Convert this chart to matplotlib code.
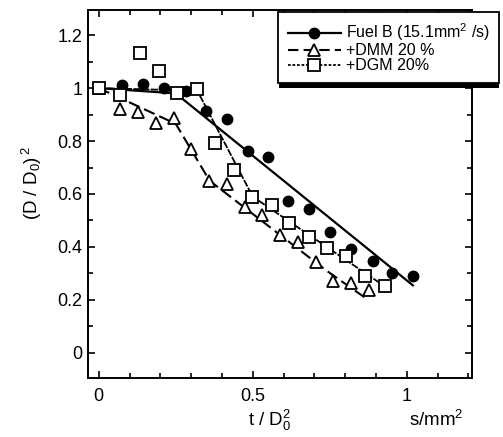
import matplotlib
matplotlib.use("Agg")
import matplotlib.pyplot as plt
from matplotlib.lines import Line2D
from matplotlib.ticker import MultipleLocator
import matplotlib.patheffects as pe

plt.rcParams['font.family'] = ['Liberation Sans', 'DejaVu Sans']
plt.rcParams['mathtext.fontset'] = 'custom'
plt.rcParams['mathtext.rm'] = 'Liberation Sans'
plt.rcParams['mathtext.it'] = 'Liberation Sans:italic'
plt.rcParams['mathtext.default'] = 'regular'

# ---- data ----
fuelb_x = [0, 0.077, 0.144, 0.212, 0.282, 0.347, 0.417, 0.483, 0.550, 0.615, 0.684, 0.750, 0.820, 0.889, 0.953, 1.022]
fuelb_y = [1.0, 1.011, 1.015, 1.001, 0.988, 0.913, 0.883, 0.762, 0.740, 0.573, 0.543, 0.455, 0.391, 0.346, 0.301, 0.292]

dmm_x = [0, 0.068, 0.127, 0.185, 0.243, 0.298, 0.358, 0.417, 0.476, 0.531, 0.589, 0.646, 0.705, 0.760, 0.819, 0.876]
dmm_y = [1.0, 0.922, 0.911, 0.870, 0.886, 0.769, 0.649, 0.636, 0.551, 0.520, 0.446, 0.419, 0.342, 0.272, 0.263, 0.237]

dgm_x = [0, 0.070, 0.133, 0.195, 0.254, 0.319, 0.379, 0.439, 0.499, 0.561, 0.619, 0.684, 0.742, 0.804, 0.866, 0.929]
dgm_y = [1.0, 0.974, 1.134, 1.063, 0.983, 0.996, 0.794, 0.690, 0.589, 0.560, 0.489, 0.438, 0.395, 0.364, 0.291, 0.253]

# fitted trend lines
fuelb_fit_x = [0, 0.25, 1.02]
fuelb_fit_y = [1.0, 0.98, 0.255]
dmm_fit_x = [0, 0.25, 0.36, 0.74, 0.875]
dmm_fit_y = [1.0, 0.865, 0.65, 0.31, 0.20]
dgm_fit_x = [0, 0.32, 0.50, 0.93]
dgm_fit_y = [1.0, 0.99, 0.59, 0.25]

labels = ["Fuel B (15.1mm$^2$ /s)", "+DMM 20 %", "+DGM 20%"]
xticks = [0, 0.5, 1]
xticklabels = ["0", "0.5", "1"]
yticks = [0, 0.2, 0.4, 0.6, 0.8, 1.0, 1.2]
yticklabels = ["0", "0.2", "0.4", "0.6", "0.8", "1", "1.2"]

# ---- figure ----
fig = plt.figure(figsize=(5.03, 4.37), dpi=100)
ax = fig.add_axes([88/503, 1-378/437, (472-88)/503, (378-10)/437])

lw_solid = 1.6
ax.plot(fuelb_fit_x, fuelb_fit_y, color='k', lw=lw_solid, ls='-', zorder=2)
ax.plot(dmm_fit_x, dmm_fit_y, color='k', lw=1.5, ls=(0, (5.5, 2.5)), zorder=2)
ax.plot(dgm_fit_x, dgm_fit_y, color='k', lw=1.3, ls=(0, (4, 0.8)), zorder=2)

ax.plot(fuelb_x, fuelb_y, ls='none', marker='o', ms=7.5, mfc='k', mec='k', zorder=3)
ax.plot(dmm_x, dmm_y, ls='none', marker='^', ms=8.5, mfc='white', mec='k', mew=1.3, zorder=4)
ax.plot(dgm_x, dgm_y, ls='none', marker='s', ms=8.5, mfc='white', mec='k', mew=1.3, zorder=4)

ax.set_xlim(-0.035, 1.212)
ax.set_ylim(-0.095, 1.295)
ax.set_xticks(xticks)
ax.set_xticklabels(xticklabels)
ax.set_yticks(yticks)
ax.set_yticklabels(yticklabels)
ax.xaxis.set_minor_locator(MultipleLocator(0.1))
ax.yaxis.set_minor_locator(MultipleLocator(0.1))
ax.tick_params(which='both', direction='in', top=True, right=True, width=1.2)
ax.tick_params(which='major', length=5)
ax.tick_params(which='minor', length=3.5)
ax.tick_params(axis='x', which='major', labelsize=13, pad=7)
ax.tick_params(axis='y', which='major', labelsize=13, pad=4)
for s in ax.spines.values():
    s.set_linewidth(1.4)

fig.text(32/503, 1-183/437, r"(D / D$_0$)$^{\,2}$", rotation=90, ha='center', va='center', fontsize=13.5)
fig.text(270/503, 1-420/437, r"t / D$_0^2$", ha='center', va='center', fontsize=13.5)
fig.text(436/503, 1-420/437, r"s/mm$^2$", ha='center', va='center', fontsize=13.5)

handles = [
    Line2D([], [], color='k', lw=lw_solid, ls='-', marker='o', ms=7.5, mfc='k', mec='k'),
    Line2D([], [], color='k', lw=1.5, ls=(0, (5, 2.5)), marker='^', ms=8.5, mfc='white', mec='k', mew=1.3),
    Line2D([], [], color='k', lw=1.3, ls=(0, (1.5, 1)), marker='s', ms=8.5, mfc='white', mec='k', mew=1.3),
]
leg = ax.legend(handles, labels, loc='upper right', bbox_to_anchor=(499/503, 1-12/437),
                bbox_transform=fig.transFigure, fontsize=11.5, frameon=True, fancybox=False,
                edgecolor='k', framealpha=1, handlelength=3.3, handletextpad=0.3,
                labelspacing=0.0, borderpad=0.6, borderaxespad=0)
leg.get_frame().set_linewidth(1.3)
leg.get_frame().set_path_effects([pe.SimplePatchShadow(offset=(0.3, -3.8), shadow_rgbFace='k', alpha=1.0), pe.Normal()])
leg.set_zorder(10)

fig.savefig("out.png", dpi=100)
